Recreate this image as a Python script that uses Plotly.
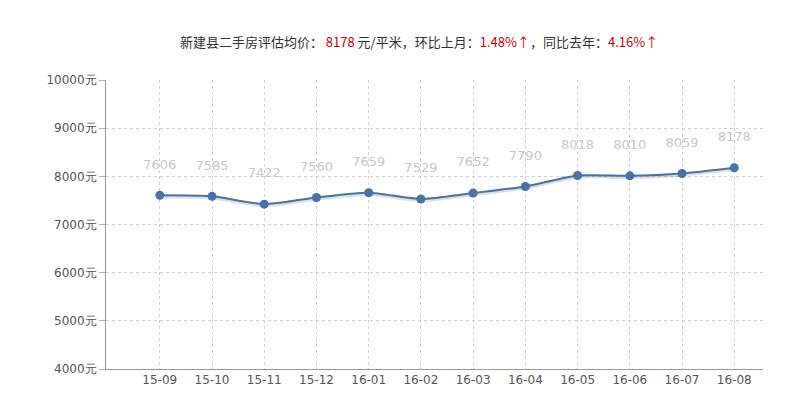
import plotly.graph_objects as go

months = ["15-09","15-10","15-11","15-12","16-01","16-02","16-03","16-04","16-05","16-06","16-07","16-08"]
prices = [7606,7585,7422,7560,7659,7529,7652,7790,8018,8010,8059,8178]
yticks = [4000,5000,6000,7000,8000,9000,10000]

x = list(range(len(months)))
fig = go.Figure()
fig.add_trace(go.Scatter(x=x, y=[p-25 for p in prices], mode="lines", line=dict(color="rgba(0,0,0,0.12)", width=4, shape="spline", smoothing=0.6), hoverinfo="skip"))
fig.add_trace(go.Scatter(x=x, y=prices, mode="lines+markers+text", text=[str(p)+"<br> " for p in prices],
    textposition="top center", textfont=dict(color="#c8c8c8", size=13, family="DejaVu Sans"),
    line=dict(color="#4572a7", width=2, shape="spline", smoothing=0.6),
    marker=dict(color="#4572a7", size=9)))
fig.update_layout(
    width=806, height=409, paper_bgcolor="white", plot_bgcolor="white", showlegend=False,
    margin=dict(l=98, r=51, t=72, b=48, autoexpand=False),
    title=dict(text="新建县二手房评估均价： <span style='color:#cc0000'>8178</span> 元/平米，环比上月：<span style='color:#cc0000'>1.48%↑</span>，同比去年：<span style='color:#cc0000'>4.16%↑</span>",
               x=0.51, xanchor="center", y=0.915, yanchor="middle", font=dict(size=13, color="#333", family="Noto Sans CJK SC")),
    font=dict(family="DejaVu Sans", color="#666", size=12),
)
fig.update_xaxes(range=[-1.03, 11.55], tickvals=x, ticktext=months, showgrid=True, griddash="dot", gridcolor="#d0d0d0",
                 showline=True, linecolor="#999", zeroline=False, ticks="outside", ticklen=0, tickfont=dict(size=12, color="#555"))
fig.update_yaxes(range=[4000,10000], tickvals=yticks, ticktext=[f"{v}元" for v in yticks], showgrid=True, griddash="dot",
                 gridcolor="#d0d0d0", showline=True, linecolor="#999", zeroline=False, ticks="outside", ticklen=6, tickcolor="#a0b8d0",
                 tickfont=dict(size=12, color="#555"))
fig.write_html("out.html")
